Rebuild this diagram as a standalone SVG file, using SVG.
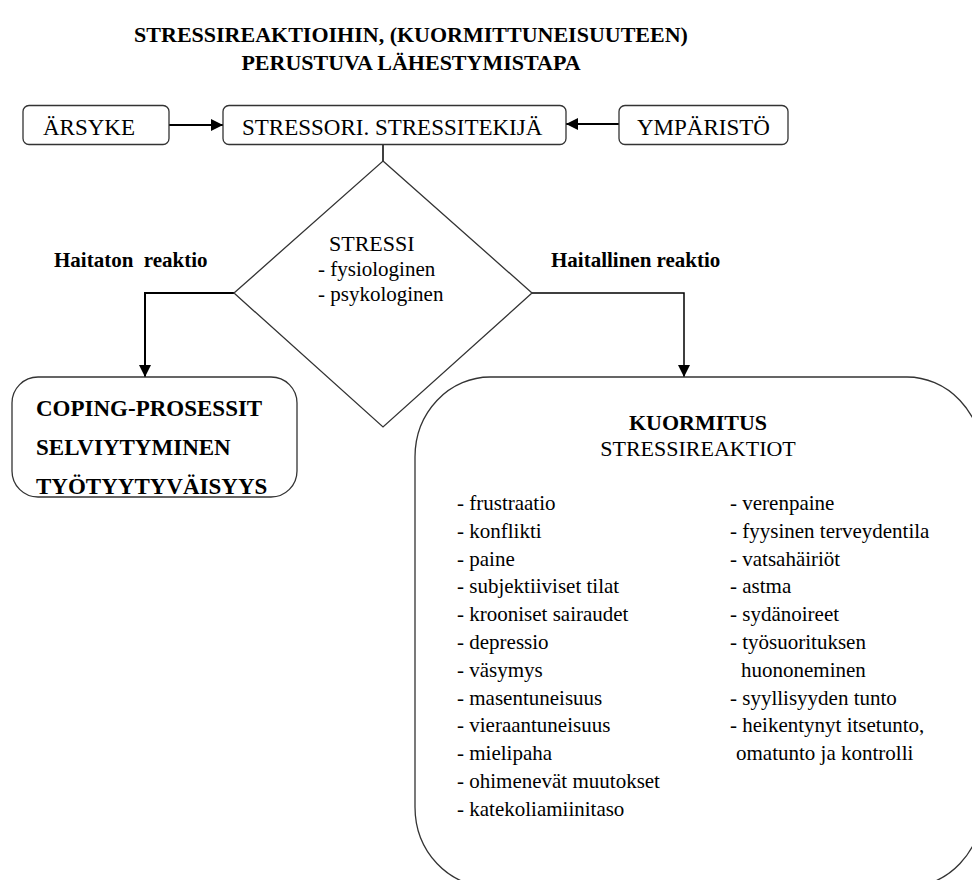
<svg xmlns="http://www.w3.org/2000/svg" width="972" height="880" viewBox="0 0 972 880">
<style>
text{font-family:'Liberation Serif','Times New Roman',Times,'DejaVu Serif',serif;fill:#000}
.t{font-size:22px;font-weight:bold}
.bx{fill:#fff;stroke:#333;stroke-width:1.3}
.lb{font-size:23px}
.bl{font-size:21px;font-weight:bold}
.ls{font-size:21px}
.cb{font-size:23px;font-weight:bold}
.c{fill:none;stroke:#000}
</style>
<defs>
<marker id="ah" markerUnits="userSpaceOnUse" markerWidth="13" markerHeight="12" refX="12" refY="6" orient="auto">
<path d="M0,0 L12,6 L0,12 z" fill="#000"/>
</marker>
</defs>
<g id="title">
<text class="t" x="411" y="42" text-anchor="middle">STRESSIREAKTIOIHIN, (KUORMITTUNEISUUTEEN)</text>
<text class="t" x="411" y="70" text-anchor="middle">PERUSTUVA LÄHESTYMISTAPA</text>
</g>
<g id="connectors">
<line class="c" x1="169" y1="125" x2="223" y2="125" stroke-width="2" marker-end="url(#ah)"/>
<line class="c" x1="619" y1="124" x2="566" y2="124" stroke-width="2" marker-end="url(#ah)"/>
<line class="c" x1="383" y1="144.5" x2="383" y2="161" stroke-width="1.5"/>
<polyline class="c" points="234,293 145,293 145,377" stroke-width="2" marker-end="url(#ah)"/>
<polyline class="c" points="532,293 684,293 684,377" stroke-width="1.5" marker-end="url(#ah)"/>
<text class="bl" x="54" y="267" xml:space="preserve">Haitaton  reaktio</text>
<text class="bl" x="551" y="267">Haitallinen reaktio</text>
</g>
<g id="arsyke">
<rect class="bx" x="23" y="105.5" width="146" height="39" rx="6"/>
<text class="lb" x="43" y="135">ÄRSYKE</text>
</g>
<g id="stressori">
<rect class="bx" x="223" y="105.5" width="343" height="39" rx="6"/>
<text class="lb" x="242" y="135">STRESSORI. STRESSITEKIJÄ</text>
</g>
<g id="ymparisto">
<rect class="bx" x="619" y="105.5" width="169" height="39" rx="6"/>
<text class="lb" x="637" y="135">YMPÄRISTÖ</text>
</g>
<g id="stressi">
<polygon class="bx" points="383,161 532,293 383,427 234,293"/>
<text class="ls" x="329" y="251" style="font-size:22px">STRESSI</text>
<text class="ls" x="318" y="276">- fysiologinen</text>
<text class="ls" x="318" y="301">- psykologinen</text>
</g>
<g id="coping">
<rect class="bx" x="12" y="377" width="285" height="120" rx="26"/>
<text class="cb" x="36" y="416">COPING-PROSESSIT</text>
<text class="cb" x="36" y="455">SELVIYTYMINEN</text>
<text class="cb" x="36" y="494">TYÖTYYTYVÄISYYS</text>
</g>
<g id="kuormitus">
<rect class="bx" x="415" y="377" width="567" height="510" rx="75" ry="80"/>
<text class="cb" x="698" y="430" text-anchor="middle" style="font-size:22px">KUORMITUS</text>
<text class="ls" x="698" y="456" text-anchor="middle" style="font-size:22px">STRESSIREAKTIOT</text>
<g class="ls">
<text x="457" y="510">- frustraatio</text>
<text x="457" y="538">- konflikti</text>
<text x="457" y="566">- paine</text>
<text x="457" y="593">- subjektiiviset tilat</text>
<text x="457" y="621">- krooniset sairaudet</text>
<text x="457" y="649">- depressio</text>
<text x="457" y="677">- väsymys</text>
<text x="457" y="705">- masentuneisuus</text>
<text x="457" y="732">- vieraantuneisuus</text>
<text x="457" y="760">- mielipaha</text>
<text x="457" y="788">- ohimenevät muutokset</text>
<text x="457" y="816">- katekoliamiinitaso</text>
<text x="730" y="510">- verenpaine</text>
<text x="730" y="538">- fyysinen terveydentila</text>
<text x="730" y="566">- vatsahäiriöt</text>
<text x="730" y="593">- astma</text>
<text x="730" y="621">- sydänoireet</text>
<text x="730" y="649">- työsuorituksen</text>
<text x="741" y="677">huononeminen</text>
<text x="730" y="705">- syyllisyyden tunto</text>
<text x="730" y="732">- heikentynyt itsetunto,</text>
<text x="736" y="760">omatunto ja kontrolli</text>
</g>
</g>
</svg>
